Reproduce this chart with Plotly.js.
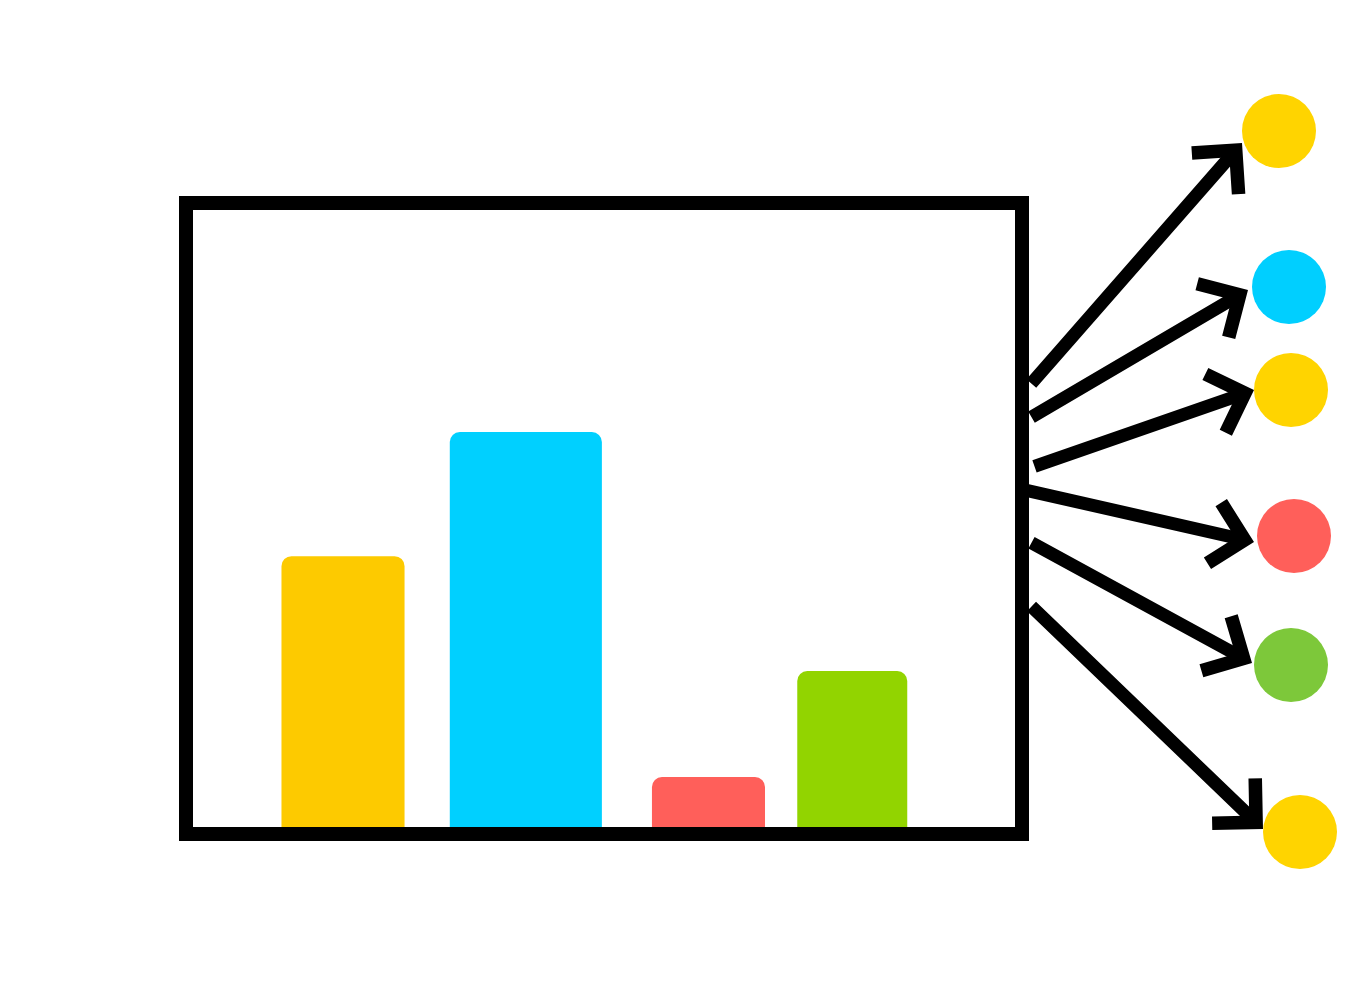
<!DOCTYPE html>
<html>
<head>
<meta charset="utf-8">
<script src="https://cdn.plot.ly/plotly-3.0.1.min.js"></script>
<style>
  html, body { margin: 0; padding: 0; background: #fff; }
  #chartBox { width: 1369px; height: 1000px; }
</style>
</head>
<body>
<div id="chartBox"></div>
<script>
// bars inside the box
const categories = ['A', 'B', 'C', 'D'];
const barValues = [43.4, 63.3, 8.0, 25.0];
const barColors = ['#FDCA00', '#00D0FF', '#FF5F5A', '#92D400'];

// dots on the right (drawn on a full-page pixel grid)
const dotX = [1279, 1289, 1291, 1294, 1291, 1300];
const dotY = [131, 287, 390, 536, 665, 832];
const dotColors = ['#FFD400', '#00CFFF', '#FFD400', '#FF5F5A', '#7DC83A', '#FFD400'];

// arrows: leave the box's right side, stop at the dot's edge
const arrowStartX = [1030, 1030, 1033, 1025, 1030, 1030];
const arrowStartY = [385, 418, 467, 490, 542, 605];
const arrowEndX = [1242, 1248, 1254, 1254, 1252, 1263];
const arrowEndY = [143, 290, 390, 542, 663, 829];

const bars = {
  type: 'bar',
  x: categories,
  y: barValues,
  width: [0.725, 0.896, 0.666, 0.648],
  offset: [-0.3625, -0.371, -0.18, -0.324],
  marker: { color: barColors, cornerradius: 10 },
  xaxis: 'x',
  yaxis: 'y',
  hoverinfo: 'skip'
};

const dots = {
  type: 'scatter',
  mode: 'markers',
  x: dotX,
  y: dotY,
  marker: { size: 74, color: dotColors, line: { width: 0 } },
  xaxis: 'x2',
  yaxis: 'y2',
  hoverinfo: 'skip'
};

const arrows = arrowEndX.map((ex, i) => ({
  x: ex,
  y: arrowEndY[i],
  ax: arrowStartX[i],
  ay: arrowStartY[i],
  xref: 'x2', yref: 'y2',
  axref: 'x2', ayref: 'y2',
  text: '',
  showarrow: true,
  arrowhead: 4,
  arrowsize: 0.92,
  arrowwidth: 13,
  arrowcolor: '#000',
  standoff: 0
}));

const hidden = { visible: false, fixedrange: true };

const layout = {
  width: 1369,
  height: 1000,
  margin: { l: 0, r: 0, t: 0, b: 0 },
  paper_bgcolor: '#fff',
  plot_bgcolor: 'rgba(0,0,0,0)',
  showlegend: false,
  xaxis: {
    domain: [186 / 1369, 1022 / 1369],
    range: [-0.925, 4.0],
    showgrid: false, zeroline: false, showticklabels: false, ticks: '',
    fixedrange: true
  },
  yaxis: {
    domain: [1 - 834 / 1000, 1 - 203 / 1000],
    range: [-1.12, 100],
    showgrid: false, zeroline: false, showticklabels: false, ticks: '',
    fixedrange: true
  },
  xaxis2: Object.assign({ domain: [0, 1], range: [0, 1369], anchor: 'y2' }, hidden),
  yaxis2: Object.assign({ domain: [0, 1], range: [1000, 0], anchor: 'x2' }, hidden),
  shapes: [{
    type: 'rect',
    xref: 'x domain', yref: 'y domain',
    x0: 0, x1: 1, y0: 0, y1: 1,
    line: { color: '#000', width: 14 },
    fillcolor: 'rgba(0,0,0,0)'
  }],
  annotations: arrows
};

Plotly.newPlot('chartBox', [bars, dots], layout, { staticPlot: true, displayModeBar: false });
</script>
</body>
</html>
